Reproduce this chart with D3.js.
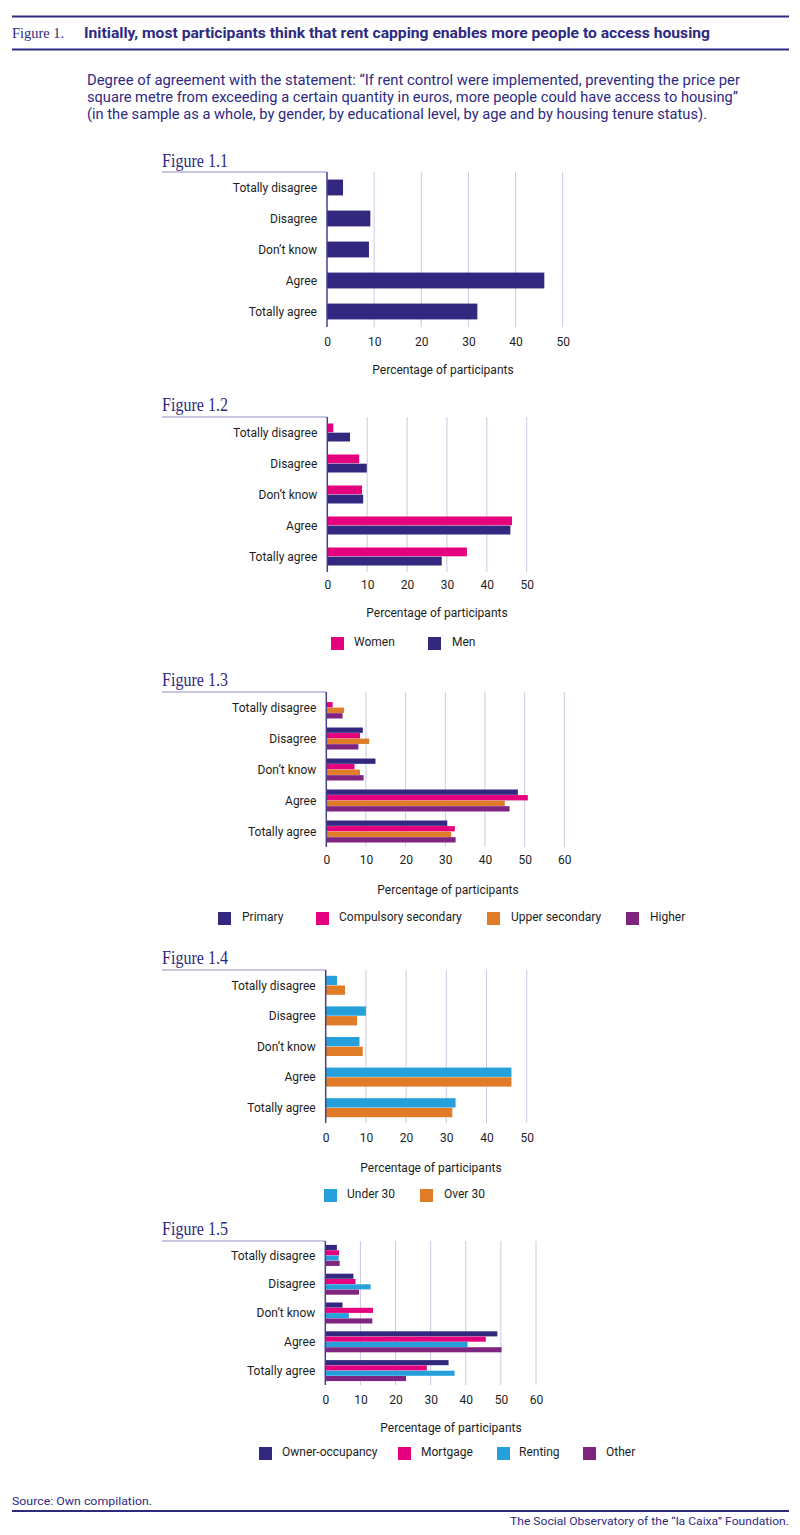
<!DOCTYPE html>
<html>
<head>
<meta charset="utf-8">
<script src="https://cdn.jsdelivr.net/npm/d3@7"></script>
<style>
  html, body { margin: 0; padding: 0; background: #fff; }
  svg { display: block; }
</style>
</head>
<body>
<div id="chart"></div>
<script>
// ---------------- DATA ----------------
const categories = ["Totally disagree", "Disagree", "Don’t know", "Agree", "Totally agree"];

const ticks50 = [0, 10, 20, 30, 40, 50];
const ticks60 = [0, 10, 20, 30, 40, 50, 60];

// Figure 1.1 – whole sample
const fig11Total = [3.4, 9.2, 8.9, 46.1, 31.9];

// Figure 1.2 – by gender
const fig12Series = ["Women", "Men"];
const fig12Women = [1.5, 8.0, 8.7, 46.3, 35.0];
const fig12Men = [5.7, 9.9, 9.0, 45.9, 28.7];

// Figure 1.3 – by educational level
const fig13Series = ["Primary", "Compulsory secondary", "Upper secondary", "Higher"];
const fig13Primary = [0, 9.2, 12.4, 48.3, 30.5];
const fig13Compulsory = [1.6, 8.5, 7.1, 50.8, 32.4];
const fig13Upper = [4.5, 10.8, 8.5, 45.0, 31.5];
const fig13Higher = [4.1, 8.1, 9.4, 46.2, 32.6];

// Figure 1.4 – by age
const fig14Series = ["Under 30", "Over 30"];
const fig14Under30 = [2.8, 10.0, 8.4, 46.2, 32.3];
const fig14Over30 = [4.8, 7.8, 9.2, 46.2, 31.5];

// Figure 1.5 – by housing tenure status
const fig15Series = ["Owner-occupancy", "Mortgage", "Renting", "Other"];
const fig15Owner = [3.3, 8.0, 4.9, 49.0, 35.1];
const fig15Mortgage = [3.9, 8.6, 13.6, 45.7, 28.9];
const fig15Renting = [3.8, 12.9, 6.7, 40.5, 36.8];
const fig15Other = [4.1, 9.6, 13.4, 50.2, 23.0];

// ---------------- STYLE ----------------
const C = {
  ink: "#2e2a7f",
  navy: "#32287f",
  pink: "#e5007d",
  orange: "#e07b27",
  cyan: "#25a0db",
  purple: "#7f2580",
  grid: "#cdc8e2",
  text: "#1d1d1b",
  titleRule: "#b9b3d6"
};
const sans = "Roboto, 'Liberation Sans', Arial, sans-serif";
const serif = "'Liberation Serif', 'DejaVu Serif', serif";

const W = 800, H = 1535;
const svg = d3.select("#chart").append("svg")
  .attr("width", W).attr("height", H)
  .attr("viewBox", `0 0 ${W} ${H}`);

// ---------------- HEADER ----------------
svg.append("line").attr("x1", 12).attr("x2", 789).attr("y1", 16.5).attr("y2", 16.5)
  .attr("stroke", C.ink).attr("stroke-width", 2);
svg.append("line").attr("x1", 12).attr("x2", 789).attr("y1", 49.5).attr("y2", 49.5)
  .attr("stroke", C.ink).attr("stroke-width", 2);
svg.append("text").attr("x", 12).attr("y", 38)
  .attr("font-family", serif).attr("font-size", 15).attr("fill", C.ink)
  .attr("textLength", 52).attr("lengthAdjust", "spacingAndGlyphs")
  .text("Figure 1.");
svg.append("text").attr("x", 84).attr("y", 38)
  .attr("font-family", sans).attr("font-weight", "bold").attr("font-size", 15).attr("fill", C.ink)
  .attr("textLength", 626).attr("lengthAdjust", "spacingAndGlyphs")
  .text("Initially, most participants think that rent capping enables more people to access housing");

const subtitle = [
  ["Degree of agreement with the statement: “If rent control were implemented, preventing the price per", 653],
  ["square metre from exceeding a certain quantity in euros, more people could have access to housing”", 651],
  ["(in the sample as a whole, by gender, by educational level, by age and by housing tenure status).", 620]
];
subtitle.forEach((s, i) => {
  svg.append("text").attr("x", 87).attr("y", 85 + i * 17)
    .attr("font-family", sans).attr("font-size", 14).attr("fill", C.ink)
    .attr("textLength", s[1]).attr("lengthAdjust", "spacingAndGlyphs")
    .text(s[0]);
});

// ---------------- PANEL DRAWER ----------------
function panel(cfg) {
  const g = svg.append("g");
  const x = d3.scaleLinear().domain([0, cfg.xMaxTick]).range([cfg.x0, cfg.x1]);
  const yOuter = d3.scaleBand().domain(categories).range([cfg.top, cfg.bottom]).padding(0);
  const bw = yOuter.bandwidth();
  const yInner = d3.scaleBand().domain(cfg.series.map(s => s.name))
    .range([(bw - cfg.groupH) / 2, (bw + cfg.groupH) / 2]).paddingInner(0.04);

  // panel title
  g.append("text").attr("x", 162).attr("y", cfg.titleY)
    .attr("font-family", serif).attr("font-size", 18).attr("fill", C.ink)
    .attr("textLength", 66).attr("lengthAdjust", "spacingAndGlyphs")
    .text(cfg.title);
  g.append("line").attr("x1", 162).attr("x2", cfg.x0).attr("y1", cfg.top).attr("y2", cfg.top)
    .attr("stroke", C.titleRule).attr("stroke-width", 1.5);

  // grid lines
  g.selectAll(".grid").data(cfg.ticks.filter(t => t > 0)).join("line")
    .attr("x1", d => x(d)).attr("x2", d => x(d))
    .attr("y1", cfg.top).attr("y2", cfg.bottom)
    .attr("stroke", C.grid).attr("stroke-width", 1);

  // bars
  cfg.series.forEach(s => {
    g.selectAll(null).data(s.values.map((v, i) => ({ v, c: categories[i] }))).join("rect")
      .attr("x", x(0))
      .attr("y", d => yOuter(d.c) + yInner(s.name))
      .attr("width", d => Math.max(0, x(d.v) - x(0)))
      .attr("height", yInner.bandwidth())
      .attr("fill", s.color);
  });

  // vertical axis line
  g.append("line").attr("x1", cfg.x0).attr("x2", cfg.x0)
    .attr("y1", cfg.top).attr("y2", cfg.bottom)
    .attr("stroke", "#4a3f8c").attr("stroke-width", 1.5);

  // category labels
  g.selectAll(null).data(categories).join("text")
    .attr("x", cfg.x0 - 10)
    .attr("y", d => yOuter(d) + bw / 2)
    .attr("dy", "0.35em")
    .attr("text-anchor", "end")
    .attr("font-family", sans).attr("font-size", 12).attr("fill", C.text)
    .text(d => d);

  // x tick labels via axis
  const axis = d3.axisBottom(x).tickValues(cfg.ticks).tickSize(0).tickPadding(0).tickFormat(d3.format("d"));
  const ag = g.append("g").attr("transform", `translate(0,${cfg.tickY})`).call(axis);
  ag.select(".domain").remove();
  ag.selectAll("text")
    .attr("dy", "0.35em").attr("y", 0)
    .attr("font-family", sans).attr("font-size", 12).attr("fill", C.text);

  // axis title
  g.append("text").attr("x", cfg.axisTitleX).attr("y", cfg.axisTitleY)
    .attr("dy", "0.35em").attr("text-anchor", "middle")
    .attr("font-family", sans).attr("font-size", 12).attr("fill", C.text)
    .text("Percentage of participants");

  // legend
  if (cfg.legend) {
    cfg.series.forEach((s, i) => {
      const lx = cfg.legend.sq[i], tx = cfg.legend.tx[i];
      g.append("rect").attr("x", lx).attr("y", cfg.legend.y - 6)
        .attr("width", 13).attr("height", 13).attr("fill", s.color);
      g.append("text").attr("x", tx).attr("y", cfg.legend.y - 1).attr("dy", "0.35em")
        .attr("font-family", sans).attr("font-size", 12).attr("fill", C.text)
        .text(s.name);
    });
  }
}

// Figure 1.1
panel({
  title: "Figure 1.1", titleY: 167,
  x0: 327, x1: 562.7, xMaxTick: 50, ticks: ticks50,
  top: 172, bottom: 327, groupH: 16.5,
  series: [{ name: "Total", values: fig11Total, color: C.navy }],
  tickY: 342, axisTitleX: 443, axisTitleY: 370
});

// Figure 1.2
panel({
  title: "Figure 1.2", titleY: 411,
  x0: 327.3, x1: 526.7, xMaxTick: 50, ticks: ticks50,
  top: 417, bottom: 572, groupH: 18,
  series: [
    { name: fig12Series[0], values: fig12Women, color: C.pink },
    { name: fig12Series[1], values: fig12Men, color: C.navy }
  ],
  tickY: 585, axisTitleX: 437, axisTitleY: 613,
  legend: { y: 643, sq: [331, 428], tx: [354, 452] }
});

// Figure 1.3
panel({
  title: "Figure 1.3", titleY: 686,
  x0: 326.3, x1: 564.3, xMaxTick: 60, ticks: ticks60,
  top: 692, bottom: 847, groupH: 22,
  series: [
    { name: fig13Series[0], values: fig13Primary, color: C.navy },
    { name: fig13Series[1], values: fig13Compulsory, color: C.pink },
    { name: fig13Series[2], values: fig13Upper, color: C.orange },
    { name: fig13Series[3], values: fig13Higher, color: C.purple }
  ],
  tickY: 860, axisTitleX: 448, axisTitleY: 890,
  legend: { y: 918, sq: [218, 316, 487, 626], tx: [242, 339, 511, 650] }
});

// Figure 1.4
panel({
  title: "Figure 1.4", titleY: 964,
  x0: 325.7, x1: 526.7, xMaxTick: 50, ticks: ticks50,
  top: 970, bottom: 1123, groupH: 19,
  series: [
    { name: fig14Series[0], values: fig14Under30, color: C.cyan },
    { name: fig14Series[1], values: fig14Over30, color: C.orange }
  ],
  tickY: 1138, axisTitleX: 431, axisTitleY: 1168,
  legend: { y: 1195, sq: [324, 420], tx: [347, 444] }
});

// Figure 1.5
panel({
  title: "Figure 1.5", titleY: 1235,
  x0: 325.3, x1: 536, xMaxTick: 60, ticks: ticks60,
  top: 1241, bottom: 1385, groupH: 21,
  series: [
    { name: fig15Series[0], values: fig15Owner, color: C.navy },
    { name: fig15Series[1], values: fig15Mortgage, color: C.pink },
    { name: fig15Series[2], values: fig15Renting, color: C.cyan },
    { name: fig15Series[3], values: fig15Other, color: C.purple }
  ],
  tickY: 1400, axisTitleX: 451, axisTitleY: 1428,
  legend: { y: 1453, sq: [259, 398, 497, 583], tx: [282, 421, 519, 606] }
});

// ---------------- FOOTER ----------------
svg.append("text").attr("x", 12).attr("y", 1505)
  .attr("font-family", sans).attr("font-size", 11).attr("fill", C.ink)
  .attr("textLength", 140).attr("lengthAdjust", "spacingAndGlyphs")
  .text("Source: Own compilation.");
svg.append("line").attr("x1", 12).attr("x2", 789).attr("y1", 1511).attr("y2", 1511)
  .attr("stroke", C.ink).attr("stroke-width", 2);
svg.append("text").attr("x", 510).attr("y", 1525)
  .attr("font-family", sans).attr("font-size", 11).attr("fill", C.ink)
  .attr("textLength", 279).attr("lengthAdjust", "spacingAndGlyphs")
  .text("The Social Observatory of the “la Caixa” Foundation.");
</script>
</body>
</html>
